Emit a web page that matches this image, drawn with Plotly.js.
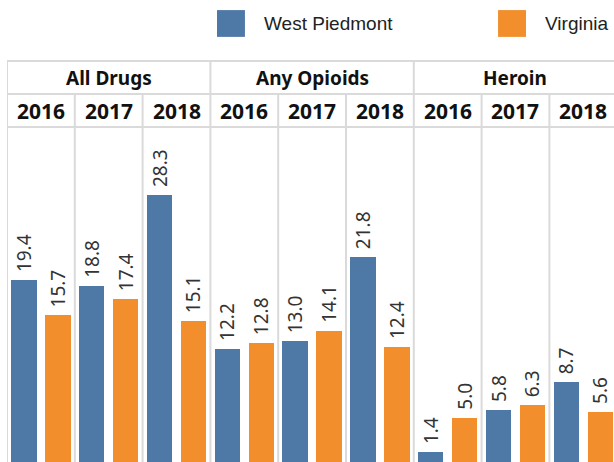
<!DOCTYPE html>
<html>
<head>
<meta charset="utf-8">
<script src="https://cdn.plot.ly/plotly-3.0.1.min.js"></script>
<style>html,body{margin:0;padding:0;background:#fff;}#chart{width:614px;height:462px;}</style>
</head>
<body>
<div id="chart"></div>
<script>
const categories = ['All Drugs', 'Any Opioids', 'Heroin'];
const years = ['2016', '2017', '2018'];
const westPiedmont = [19.4, 18.8, 28.3, 12.2, 13.0, 21.8, 1.4, 5.8, 8.7];
const virginia = [15.7, 17.4, 15.1, 12.8, 14.1, 12.4, 5.0, 6.3, 5.6];
const seriesNames = ['West Piedmont', 'Virginia'];
const colors = ['#4e79a7', '#f28e2b'];

const nCols = categories.length * years.length;
const xBlue = westPiedmont.map((_, i) => 2 * i);
const xOrange = virginia.map((_, i) => 2 * i + 1);

function barTrace(name, xs, ys, color) {
  return {
    type: 'bar', name: name, x: xs, y: ys, width: 0.75,
    marker: {color: color},
    texttemplate: '\u00a0%{y:.1f}', textposition: 'outside', textangle: -90,
    textfont: {family: 'Noto Sans, sans-serif', size: 19, color: '#333333'},
    constraintext: 'none', cliponaxis: false, hoverinfo: 'x+y', showlegend: false
  };
}

const traces = [
  barTrace(seriesNames[0], xBlue, westPiedmont, colors[0]),
  barTrace(seriesNames[1], xOrange, virginia, colors[1])
];

// geometry (paper coordinates)
const topY = 1.197, midY = 1.0985, grid = '#dadada';
const shapes = [];
const line = {color: grid, width: 2};
[topY, midY, 1.0].forEach(y => shapes.push({type: 'line', xref: 'paper', yref: 'paper', x0: 0, x1: 1.05, y0: y, y1: y, line: line}));
for (let k = 0; k < nCols; k++) {
  const xb = 2 * k - 0.5;
  const isCat = k % years.length === 0;
  shapes.push({type: 'line', xref: 'x', yref: 'paper', x0: xb, x1: xb, y0: 0, y1: isCat ? topY : midY, line: line});
}
shapes.push({type: 'rect', xref: 'paper', yref: 'paper', x0: 0.346, x1: 0.392, y0: 1.269, y1: 1.349, fillcolor: colors[0], line: {width: 0}});
shapes.push({type: 'rect', xref: 'paper', yref: 'paper', x0: 0.809, x1: 0.855, y0: 1.269, y1: 1.349, fillcolor: colors[1], line: {width: 0}});

const annotations = [];
categories.forEach((c, ci) => {
  annotations.push({xref: 'x', yref: 'paper', x: 6 * ci + 2.5, y: 1.146, text: '<b>' + c + '</b>', showarrow: false,
    font: {family: 'Noto Sans, sans-serif', size: 19, color: '#111'}, xanchor: 'center', yanchor: 'middle'});
  years.forEach((yr, yi) => {
    annotations.push({xref: 'x', yref: 'paper', x: 2 * (ci * 3 + yi) + 0.5, y: 1.048, text: '<b>' + yr + '</b>', showarrow: false,
      font: {family: 'Noto Sans, sans-serif', size: 21, color: '#111'}, xanchor: 'center', yanchor: 'middle'});
  });
});
annotations.push({xref: 'paper', yref: 'paper', x: 0.420, y: 1.310, text: seriesNames[0], showarrow: false, xanchor: 'left', yanchor: 'middle',
  font: {family: 'Liberation Sans, Arial, sans-serif', size: 19, color: '#222'}});
annotations.push({xref: 'paper', yref: 'paper', x: 0.883, y: 1.310, text: seriesNames[1], showarrow: false, xanchor: 'left', yanchor: 'middle',
  font: {family: 'Liberation Sans, Arial, sans-serif', size: 19, color: '#222'}});

const layout = {
  width: 614, height: 462,
  margin: {l: 7, r: 0, t: 127, b: 0, pad: 0},
  paper_bgcolor: '#ffffff', plot_bgcolor: '#ffffff',
  showlegend: false,
  bargap: 0,
  xaxis: {type: 'linear', range: [-0.5, 17.406], showgrid: false, zeroline: false, showticklabels: false, ticks: '', fixedrange: true},
  yaxis: {range: [0.36, 35.42], showgrid: false, zeroline: false, showticklabels: false, ticks: '', fixedrange: true},
  shapes: shapes,
  annotations: annotations
};

Plotly.newPlot('chart', traces, layout, {displayModeBar: false, staticPlot: true});
</script>
</body>
</html>
